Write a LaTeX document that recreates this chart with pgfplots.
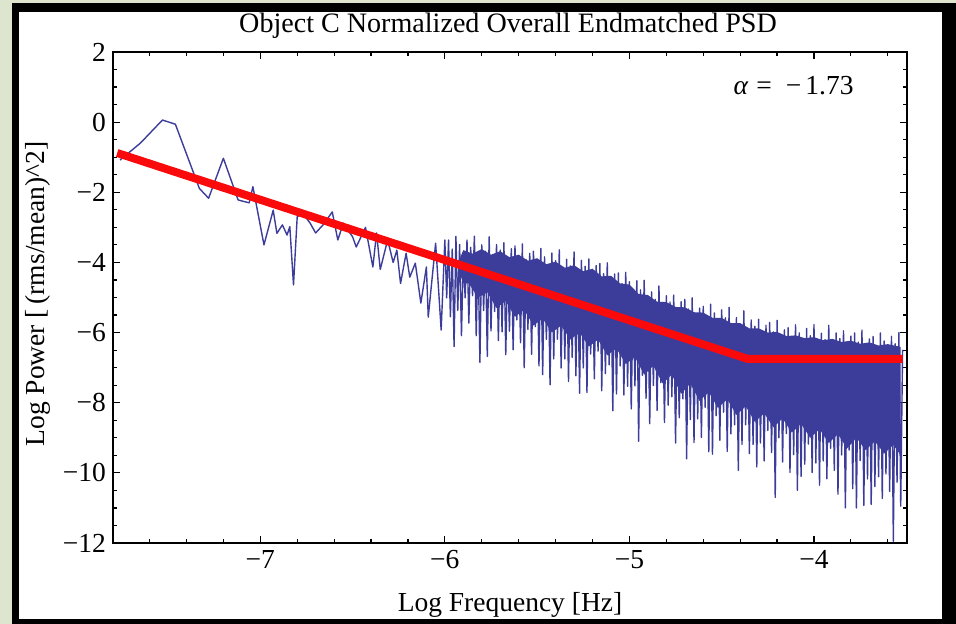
\documentclass[border=0pt]{standalone}
\usepackage{pgfplots}
\pgfplotsset{compat=1.18}
\usepackage{fontspec}
\setmainfont{Liberation Serif}
\definecolor{bggreen}{RGB}{221,229,206}
\definecolor{psdblue}{RGB}{60,60,155}
\definecolor{fitred}{RGB}{250,10,10}
\newcommand{\lab}{\fontsize{13.8}{16}\selectfont}
\begin{document}
\begin{tikzpicture}
\fill[bggreen] (0bp,0bp) rectangle (478bp,312bp);
\fill[black] (6bp,0bp) rectangle (478bp,310.5bp);
\fill[white] (9.5bp,2.5bp) rectangle (471bp,306bp);
\begin{axis}[
  at={(56.5bp,40.5bp)}, anchor=south west,
  scale only axis, width=397bp, height=245.5bp,
  xmin=-7.798, xmax=-3.496, ymin=-12, ymax=2,
  xtick={-7,-6,-5,-4}, xticklabels={−7,−6,−5,−4},
  ytick={-12,-10,-8,-6,-4,-2,0,2}, yticklabels={−12,−10,−8,−6,−4,−2,0,2},
  minor xtick={-7.6,-7.4,-7.2,-6.8,-6.6,-6.4,-6.2,-5.8,-5.6,-5.4,-5.2,-4.8,-4.6,-4.4,-4.2,-3.8,-3.6},
  minor ytick={-11.5,-11,-10.5,-9.5,-9,-8.5,-7.5,-7,-6.5,-5.5,-5,-4.5,-3.5,-3,-2.5,-1.5,-1,-0.5,0.5,1,1.5},
  tick align=inside, major tick length=3.4bp, minor tick length=2.2bp,
  tick style={black, line width=0.6pt},
  axis line style={black, line width=0.9pt},
  ticklabel style={font=\lab},
  every axis title shift=0pt,
  title={Object C Normalized Overall Endmatched PSD},
  title style={font=\fontsize{14.1}{16}\selectfont, at={(axis description cs:0.4975,1.0387)}, anchor=base, inner sep=0pt, yshift=0pt},
  xlabel={Log Frequency [Hz]},
  xlabel style={font=\lab, at={(axis description cs:0.5,-0.1385)}, anchor=base, inner sep=0pt},
  ylabel={Log Power [\,(rms/mean)\textasciicircum 2]},
  ylabel style={font=\lab, at={(axis description cs:-0.0945,0.507)}, anchor=center, inner sep=0pt},
]
% dense core of the spectrum
\addplot[fill=psdblue, draw=none] coordinates {
(-5.92,-3.9) (-5.9,-3.65) (-5.85,-3.75) (-5.8,-3.62) (-5.75,-3.78) (-5.7,-3.68) (-5.65,-3.85) (-5.6,-3.78) (-5.55,-3.95) (-5.5,-3.88) (-5.45,-4.05) (-5.4,-3.98) (-5.35,-4.15) (-5.3,-4.08) (-5.25,-4.25) (-5.2,-4.18) (-5.15,-4.4) (-5.1,-4.38) (-5.05,-4.6) (-5.0,-4.63) (-4.95,-4.9) (-4.9,-4.93) (-4.85,-5.12) (-4.8,-5.13) (-4.75,-5.27) (-4.7,-5.28) (-4.65,-5.42) (-4.6,-5.43) (-4.55,-5.58) (-4.5,-5.58) (-4.45,-5.73) (-4.4,-5.73) (-4.35,-5.88) (-4.3,-5.88) (-4.25,-6.0) (-4.2,-5.98) (-4.15,-6.1) (-4.1,-6.08) (-4.05,-6.16) (-4.0,-6.13) (-3.95,-6.22) (-3.9,-6.18) (-3.85,-6.27) (-3.8,-6.23) (-3.75,-6.32) (-3.7,-6.28) (-3.65,-6.37) (-3.6,-6.33) (-3.53,-6.41)
(-3.53,-9.5) (-3.57,-9.2) (-3.62,-9.45) (-3.67,-9.1) (-3.72,-9.35) (-3.77,-9.0) (-3.82,-9.3) (-3.87,-8.9) (-3.92,-9.15) (-3.97,-8.75) (-4.02,-9.0) (-4.07,-8.6) (-4.12,-8.85) (-4.17,-8.45) (-4.22,-8.7) (-4.27,-8.3) (-4.32,-8.55) (-4.37,-8.1) (-4.42,-8.35) (-4.47,-7.9) (-4.52,-8.15) (-4.57,-7.7) (-4.62,-7.95) (-4.67,-7.45) (-4.72,-7.75) (-4.77,-7.2) (-4.82,-7.45) (-4.87,-6.95) (-4.92,-7.2) (-4.97,-6.7) (-5.02,-6.9) (-5.07,-6.45) (-5.12,-6.65) (-5.17,-6.2) (-5.22,-6.4) (-5.27,-6.0) (-5.32,-6.2) (-5.37,-5.8) (-5.42,-6.0) (-5.47,-5.6) (-5.52,-5.8) (-5.57,-5.35) (-5.62,-5.55) (-5.67,-5.1) (-5.72,-5.3) (-5.77,-4.85) (-5.82,-5.0) (-5.87,-4.6) (-5.9,-4.6) (-5.92,-4.3)
};
% spectrum
\addplot[psdblue, line width=0.7pt, line join=round] coordinates {
(-7.76,-1.08) (-7.65,-0.60) (-7.53,0.06) (-7.46,-0.06) (-7.33,-1.89) (-7.28,-2.17) (-7.20,-1.03) (-7.12,-2.22) (-7.06,-2.30) (-7.04,-1.84) (-6.98,-3.50) (-6.93,-2.51) (-6.91,-3.17) (-6.88,-2.93) (-6.855,-3.22) (-6.84,-2.98) (-6.82,-4.64) (-6.80,-2.70) (-6.77,-2.60) (-6.73,-2.88) (-6.70,-3.16) (-6.66,-2.93) (-6.61,-2.56) (-6.58,-3.36) (-6.55,-2.88) (-6.50,-3.27) (-6.48,-3.56) (-6.43,-3.00) (-6.39,-4.13) (-6.37,-3.16) (-6.35,-4.20) (-6.31,-3.36) (-6.28,-4.00) (-6.26,-3.65) (-6.24,-4.60) (-6.21,-3.74) (-6.19,-4.42) (-6.16,-4.02) (-6.13,-5.16) (-6.10,-4.13) (-6.09,-5.56) (-6.05,-3.45) (-6.02,-5.93) (-6.00,-3.36)
(-5.99,-5.01) (-5.98,-3.36) (-5.97,-5.55) (-5.96,-3.62) (-5.95,-6.40) (-5.94,-3.26) (-5.93,-5.37) (-5.92,-3.49) (-5.91,-6.09) (-5.90,-3.80) (-5.89,-5.01) (-5.88,-3.36) (-5.87,-5.73) (-5.86,-3.57) (-5.85,-4.95) (-5.84,-3.25) (-5.83,-6.09) (-5.82,-3.74) (-5.81,-6.85) (-5.80,-3.50) (-5.79,-5.37) (-5.78,-3.68) (-5.77,-6.68) (-5.76,-3.27) (-5.75,-5.95) (-5.74,-3.83) (-5.73,-5.40) (-5.72,-3.49) (-5.71,-6.23) (-5.70,-3.65) (-5.69,-5.98) (-5.68,-3.44) (-5.67,-6.63) (-5.66,-3.99) (-5.65,-5.96) (-5.64,-3.61) (-5.63,-6.49) (-5.62,-3.53) (-5.61,-5.64) (-5.60,-3.80) (-5.59,-6.29) (-5.58,-3.47) (-5.57,-7.00) (-5.56,-3.92) (-5.55,-5.91) (-5.54,-3.74) (-5.53,-6.62) (-5.52,-3.68) (-5.51,-5.83) (-5.50,-3.95) (-5.49,-6.95) (-5.48,-3.60) (-5.47,-7.20) (-5.46,-3.84) (-5.45,-6.19) (-5.44,-4.16) (-5.43,-7.49) (-5.42,-3.73) (-5.41,-6.75) (-5.40,-3.95) (-5.39,-6.19) (-5.38,-3.64) (-5.37,-7.01) (-5.36,-4.14) (-5.35,-6.75) (-5.34,-3.91) (-5.33,-7.39) (-5.32,-4.10) (-5.31,-6.71) (-5.30,-3.70) (-5.29,-7.23) (-5.28,-4.27) (-5.27,-7.73) (-5.26,-3.94) (-5.25,-7.01) (-5.24,-4.11) (-5.23,-7.71) (-5.22,-3.90) (-5.21,-6.61) (-5.20,-4.45) (-5.19,-7.32) (-5.18,-4.09) (-5.17,-6.53) (-5.16,-4.03) (-5.15,-7.66) (-5.14,-4.32) (-5.13,-7.17) (-5.12,-4.01) (-5.11,-6.92) (-5.10,-4.48) (-5.09,-8.23) (-5.08,-4.33) (-5.07,-7.75) (-5.06,-4.30) (-5.05,-6.95) (-5.04,-4.60) (-5.03,-7.78) (-5.02,-4.28) (-5.01,-7.53) (-5.00,-4.55) (-4.99,-8.18) (-4.98,-4.91) (-4.97,-7.52) (-4.96,-4.52) (-4.95,-9.10) (-4.94,-4.78) (-4.93,-7.22) (-4.92,-4.51) (-4.91,-7.88) (-4.90,-5.05) (-4.89,-8.60) (-4.88,-4.84) (-4.87,-7.51) (-4.86,-5.05) (-4.85,-8.22) (-4.84,-4.67) (-4.83,-7.43) (-4.82,-5.26) (-4.81,-8.56) (-4.80,-4.95) (-4.79,-8.07) (-4.78,-5.13) (-4.77,-7.83) (-4.76,-4.93) (-4.75,-9.15) (-4.74,-5.49) (-4.73,-8.43) (-4.72,-5.12) (-4.71,-7.89) (-4.70,-5.05) (-4.69,-9.60) (-4.68,-5.33) (-4.67,-8.48) (-4.66,-5.01) (-4.65,-9.13) (-4.64,-5.47) (-4.63,-8.46) (-4.62,-5.30) (-4.61,-8.99) (-4.60,-5.25) (-4.59,-8.13) (-4.58,-5.53) (-4.57,-9.40) (-4.56,-5.19) (-4.55,-9.47) (-4.54,-5.44) (-4.53,-8.37) (-4.52,-5.77) (-4.51,-9.07) (-4.50,-5.35) (-4.49,-8.27) (-4.48,-5.58) (-4.47,-9.39) (-4.46,-5.28) (-4.45,-8.89) (-4.44,-5.79) (-4.43,-8.63) (-4.42,-5.57) (-4.41,-9.93) (-4.40,-5.77) (-4.39,-9.19) (-4.38,-5.38) (-4.37,-8.63) (-4.36,-5.96) (-4.35,-9.45) (-4.34,-5.64) (-4.33,-9.19) (-4.32,-5.82) (-4.31,-9.83) (-4.30,-5.62) (-4.29,-9.15) (-4.28,-6.17) (-4.27,-9.66) (-4.26,-5.79) (-4.25,-8.79) (-4.24,-5.71) (-4.23,-9.42) (-4.22,-5.98) (-4.21,-10.70) (-4.20,-5.65) (-4.19,-9.00) (-4.18,-6.10) (-4.17,-9.69) (-4.16,-5.92) (-4.15,-8.88) (-4.14,-5.86) (-4.13,-9.99) (-4.12,-6.13) (-4.11,-9.48) (-4.10,-5.78) (-4.09,-10.50) (-4.08,-6.01) (-4.07,-10.10) (-4.06,-6.32) (-4.05,-9.75) (-4.04,-5.88) (-4.03,-9.18) (-4.02,-6.09) (-4.01,-9.99) (-4.00,-5.77) (-3.99,-9.72) (-3.98,-6.26) (-3.97,-10.35) (-3.96,-6.02) (-3.95,-9.66) (-3.94,-6.20) (-3.93,-10.17) (-3.92,-5.79) (-3.91,-9.30) (-3.90,-6.35) (-3.89,-9.93) (-3.88,-6.01) (-3.87,-10.61) (-3.86,-6.17) (-3.85,-9.49) (-3.84,-5.95) (-3.83,-11.00) (-3.82,-6.49) (-3.81,-9.35) (-3.80,-6.10) (-3.79,-10.45) (-3.78,-6.01) (-3.77,-11.00) (-3.76,-6.27) (-3.75,-9.65) (-3.74,-5.93) (-3.73,-10.93) (-3.72,-6.37) (-3.71,-10.17) (-3.70,-6.18) (-3.69,-10.90) (-3.68,-6.11) (-3.67,-10.39) (-3.66,-6.37) (-3.65,-10.11) (-3.64,-6.01) (-3.63,-10.73) (-3.62,-6.24) (-3.61,-10.03) (-3.60,-6.55) (-3.59,-10.53) (-3.58,-6.11) (-3.57,-11.95) (-3.56,-6.32) (-3.55,-10.27) (-3.54,-6.00) (-3.53,-10.95) (-3.52,-6.49)
};
% broken power-law fit
\addplot[fitred, line width=4bp] coordinates {(-7.775,-0.88) (-4.36,-6.75) (-3.52,-6.75)};
\node[anchor=base west, inner sep=0pt, font=\lab] at (axis cs:-4.438,0.80) {\textit{α}\hspace{4bp}=\hspace{7bp}−\hspace{2bp}1.73};
\end{axis}
\end{tikzpicture}
\end{document}
